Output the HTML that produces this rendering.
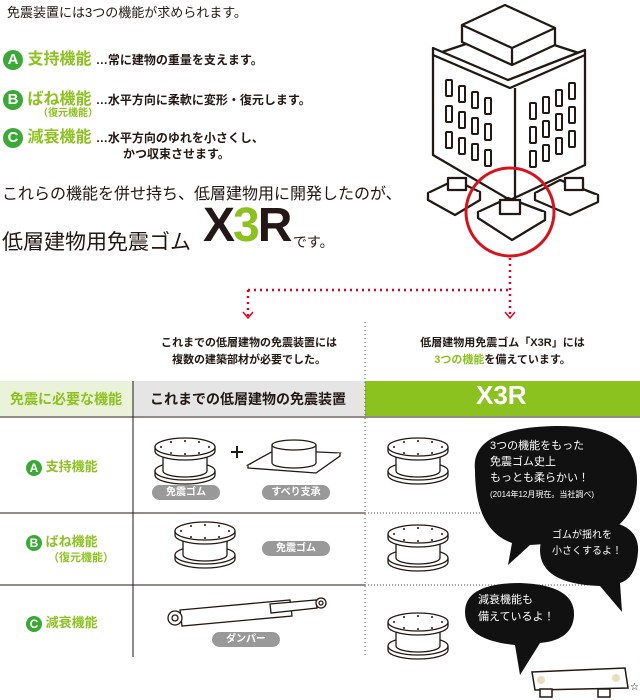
<!DOCTYPE html>
<html><head><meta charset="utf-8"><style>
body{margin:0;width:640px;height:700px;background:#fff;position:relative;overflow:hidden;font-family:"Liberation Sans","Noto Sans CJK JP",sans-serif;color:#231815}
.a{position:absolute;white-space:nowrap}
.g{color:#8cc21f;font-weight:bold}
.c{display:inline-block;width:20px;height:20px;border-radius:50%;background:#3aa935;color:#fff;font-weight:bold;font-size:15px;text-align:center;line-height:20px;vertical-align:middle}
.pill{position:absolute;background:#999;color:#fff;font-size:10px;font-weight:bold;border-radius:8px;height:15px;line-height:15px;text-align:center}
.t{font-size:11px;font-weight:bold;text-align:center}
.b{color:#fff;font-size:11px;font-family:"Liberation Sans","Noto Sans CJK JP",sans-serif}
</style></head><body>
<div class="a" style="left:7px;top:2px;font-size:13px">免震装置には3つの機能が求められます。</div>
<div class="a" style="left:3px;top:45px;font-size:16px"><span class="c">A</span> <span class="g">支持機能</span> <span style="font-size:12px;font-weight:bold">…常に建物の重量を支えます。</span></div>
<div class="a" style="left:3px;top:85px;font-size:16px"><span class="c">B</span> <span class="g">ばね機能</span> <span style="font-size:12px;font-weight:bold">…水平方向に柔軟に変形・復元します。</span></div>
<div class="a g" style="left:38px;top:104px;font-size:10px">（復元機能）</div>
<div class="a" style="left:3px;top:123px;font-size:16px"><span class="c">C</span> <span class="g">減衰機能</span> <span style="font-size:12px;font-weight:bold">…水平方向のゆれを小さくし、</span></div>
<div class="a" style="left:123px;top:145px;font-size:12px;font-weight:bold">かつ収束させます。</div>
<div class="a" style="left:2px;top:180px;font-size:16px">これらの機能を併せ持ち、低層建物用に開発したのが、</div>
<div class="a" style="left:2px;top:226px;font-size:21px">低層建物用免震ゴム</div>
<div class="a" style="left:203px;top:198px;font-size:48px;font-weight:bold;letter-spacing:-2px">X<span style="color:#8cc21f">3</span>R</div>
<div class="a" style="left:293px;top:232px;font-size:14px">です。</div>

<svg class="a" style="left:0;top:0" width="640" height="700">
<g fill="#fff" stroke="#231815" stroke-width="2.3" stroke-linejoin="round">
<path d="M433 155 L433 55 L508 30 L585 55 L585 165 L510 200 Z"/>
<path d="M433 48 L508 80 L585 50 L585 55 L510 88 L433 55 Z"/>
<path d="M462 25 L505 5 L555 28 L555 45 L512 65 L462 42 Z"/><path d="M462 25 L512 48 L555 28 M512 48 L512 65"/>
<path d="M515 88 L515 200"/>
<path d="M428 193 L455 180 L480 192 L455 208 Z"/><path d="M428 193 L428 200 L455 215 L480 200 L480 192"/>
<path d="M535 193 L560 180 L598 195 L570 210 Z"/><path d="M535 193 L535 200 L570 215 L598 202 L598 195"/>
<path d="M478 212 L508 198 L545 212 L512 232 Z"/><path d="M478 212 L478 218 L512 240 L545 220 L545 212"/>
<rect x="448" y="178" width="18" height="12"/><rect x="565" y="178" width="18" height="12"/><rect x="500" y="200" width="20" height="14"/>
</g>
<g fill="none" stroke="#231815" stroke-width="2">
<g id="w"><rect x="446" y="80" width="6" height="16" rx="1"/><rect x="459" y="86" width="6" height="16" rx="1"/><rect x="472" y="92" width="6" height="16" rx="1"/><rect x="485" y="98" width="6" height="16" rx="1"/></g>
<use href="#w" y="26"/><use href="#w" y="52"/>
<g id="v"><rect x="530" y="103" width="6" height="16" rx="1"/><rect x="543" y="97" width="6" height="16" rx="1"/><rect x="556" y="90" width="6" height="16" rx="1"/><rect x="569" y="83" width="6" height="16" rx="1"/></g>
<use href="#v" y="24"/><use href="#v" y="48"/>
</g>
<circle cx="510" cy="212" r="44" fill="none" stroke="#d7141e" stroke-width="3"/>
<g stroke="#e6001f" stroke-width="2.5" stroke-dasharray="2 4" fill="none">
<path d="M510 258 L510 318"/><path d="M248 290 L510 290"/><path d="M248 290 L248 318"/>
</g>
<path d="M243 312 L248 318 L253 312 M505 312 L510 318 L515 312" stroke="#e6001f" stroke-width="1.5" fill="none"/>
<rect x="0" y="381" width="133" height="35" fill="#eaf3d9"/>
<rect x="133" y="381" width="232" height="35" fill="#e5e5e5"/>
<rect x="365" y="381" width="275" height="35" fill="#8cc21f"/>
<line x1="0" y1="417" x2="640" y2="417" stroke="#231815" stroke-width="1"/>
<line x1="0" y1="513" x2="365" y2="513" stroke="#231815"/>
<line x1="0" y1="585" x2="365" y2="585" stroke="#231815"/>
<line x1="365" y1="513" x2="600" y2="513" stroke="#555" stroke-dasharray="1 2"/>
<line x1="365" y1="585" x2="600" y2="585" stroke="#555" stroke-dasharray="1 2"/>
<line x1="133" y1="381" x2="133" y2="657" stroke="#231815"/>
<line x1="365" y1="322" x2="365" y2="657" stroke="#555" stroke-dasharray="1 3"/>
<defs><g id="br" fill="#fff" stroke="#231815" stroke-width="1.3">
<path d="M-30 28 v4 a30 9 0 0 0 60 0 v-4"/><ellipse cx="0" cy="28" rx="30" ry="9"/>
<path d="M-22 10 v18 a22 6 0 0 0 44 0 v-18"/>
<path d="M-30 4 v4 a30 9 0 0 0 60 0 v-4"/><ellipse cx="0" cy="4" rx="30" ry="9"/>
<g fill="#231815" stroke="none"><circle cx="-24" cy="4" r="1"/><circle cx="24" cy="4" r="1"/><circle cx="0" cy="-2" r="1"/><circle cx="0" cy="11" r="1"/><circle cx="-14" cy="-1" r="1"/><circle cx="14" cy="-1" r="1"/><circle cx="-14" cy="10" r="1"/><circle cx="14" cy="10" r="1"/></g>
</g></defs>
<use href="#br" x="185" y="443"/><use href="#br" x="205" y="527"/>
<use href="#br" x="418" y="443"/><use href="#br" x="418" y="530"/><use href="#br" x="418" y="618"/>
<path d="M231 452 h12 M237 446 v12" stroke="#231815" stroke-width="2"/>
<g fill="#fff" stroke="#231815" stroke-width="1.3"><path d="M248 465 L275 450 L340 453 L316 470 Z"/><path d="M248 465 v3 L316 473 L340 456 v-3"/>
<path d="M272 445 v18 a22 5 0 0 0 44 0 v-18"/><ellipse cx="294" cy="445" rx="22" ry="5"/></g>
<g fill="#fff" stroke="#231815" stroke-width="1.3"><path d="M180 610 L290 600 L292 616 L182 626 Z"/><path d="M270 604 L316 600 L317 608 L271 613 Z"/>
<circle cx="175" cy="618" r="7"/><circle cx="175" cy="618" r="3"/><circle cx="321" cy="603" r="5"/><circle cx="321" cy="603" r="2"/></g>
<g fill="#111">
<path d="M475 470 Q470 428 555 426 Q637 425 637 480 Q637 540 560 543 L530 545 L508 565 L512 543 Q475 530 475 470 Z"/>
<path d="M540 550 Q540 520 590 520 Q640 520 638 552 Q636 578 620 583 L622 612 L600 586 Q540 584 540 550 Z"/>
<path d="M465 612 Q465 583 520 583 Q575 585 574 615 Q573 640 540 643 L520 675 L515 645 Q465 640 465 612 Z"/>
</g>
<g fill="#fff" stroke="#231815" stroke-width="1.5"><path d="M532 672 L625 668 L628 688 L535 690 Z"/><rect x="540" y="689" width="12" height="8"/><rect x="598" y="689" width="12" height="8"/></g>
<circle cx="541" cy="680" r="4" fill="#eedcc0"/><circle cx="616" cy="678" r="4" fill="#eedcc0"/>
<text x="630" y="690" font-size="10" font-family="DejaVu Sans">☆</text>
</svg>
<div class="a" style="left:10px;top:389px;font-size:14px;color:#8cc21f;font-weight:bold">免震に必要な機能</div>
<div class="a" style="left:150px;top:389px;font-size:14px;font-weight:bold">これまでの低層建物の免震装置</div>
<div class="a" style="left:476px;top:380px;font-size:26px;font-weight:bold;color:#fff">X3R</div>
<div class="a t" style="left:133px;width:232px;top:335px;line-height:17px">これまでの低層建物の免震装置には<br>複数の建築部材が必要でした。</div>
<div class="a t" style="left:365px;width:275px;top:335px;line-height:17px">低層建物用免震ゴム「X3R」には<br><span style="color:#8cc21f">3つの機能</span>を備えています。</div>
<div class="a" style="left:26px;top:456px;font-size:13px"><span class="c" style="width:16px;height:16px;line-height:16px;font-size:12px">A</span> <span class="g">支持機能</span></div>
<div class="a" style="left:26px;top:531px;font-size:13px"><span class="c" style="width:16px;height:16px;line-height:16px;font-size:12px">B</span> <span class="g">ばね機能</span></div>
<div class="a g" style="left:48px;top:549px;font-size:11px">（復元機能）</div>
<div class="a" style="left:26px;top:612px;font-size:13px"><span class="c" style="width:16px;height:16px;line-height:16px;font-size:12px">C</span> <span class="g">減衰機能</span></div>
<div class="pill" style="left:152px;top:485px;width:68px">免震ゴム</div>
<div class="pill" style="left:262px;top:485px;width:68px">すべり支承</div>
<div class="pill" style="left:262px;top:541px;width:68px">免震ゴム</div>
<div class="pill" style="left:212px;top:632px;width:68px">ダンパー</div>
<div class="a b" style="left:490px;top:438px;line-height:16px">3つの機能をもった<br>免震ゴム史上<br>もっとも柔らかい！<br><span style="font-size:8px">(2014年12月現在。当社調べ)</span></div>
<div class="a b" style="left:552px;top:528px;font-size:10px;line-height:16px">ゴムが揺れを<br>小さくするよ！</div>
<div class="a b" style="left:478px;top:592px;line-height:17px">減衰機能も<br>備えているよ！</div>
</body></html>
